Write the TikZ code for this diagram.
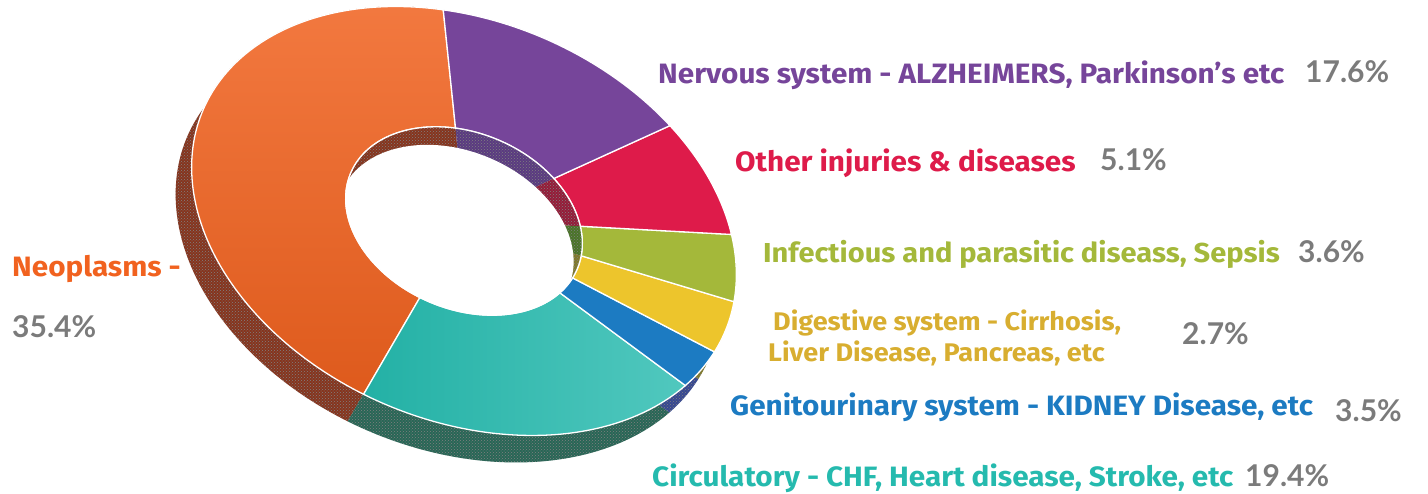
\documentclass[tikz,border=0pt]{standalone}
\usepackage{fontspec}
\setmainfont{Fira Sans}[FakeStretch=1.06]
\newfontfamily\pctfont{Lato}
\usetikzlibrary{patterns}

\definecolor{neo}{HTML}{F1621F}
\definecolor{nerv}{HTML}{76459A}
\definecolor{oth}{HTML}{DE1B4A}
\definecolor{inf}{HTML}{A4B83A}
\definecolor{dig}{HTML}{EDC52C}
\definecolor{gen}{HTML}{1C7BC2}
\definecolor{circ}{HTML}{25BAAE}
\definecolor{digtext}{HTML}{D8AE30}
\definecolor{pctgray}{HTML}{7B7B7B}
\definecolor{sideneo}{HTML}{86341D}
\definecolor{sidenerv}{HTML}{5A3A80}
\definecolor{sideoth}{HTML}{951B38}
\definecolor{sideinf}{HTML}{4A7428}
\definecolor{sidedig}{HTML}{807A2B}
\definecolor{sidegen}{HTML}{364892}
\definecolor{sidecirc}{HTML}{286656}

\tikzset{
  slice/.style={draw=white,line width=1.3pt},
  side/.style={draw=none,postaction={pattern=crosshatch dots,pattern color=black!50}},
  lab/.style={font=\fontsize{28}{31}\selectfont\bfseries,anchor=base west,inner sep=0pt},
  pct/.style={font=\fontsize{30}{33}\selectfont\pctfont\bfseries,anchor=base west,inner sep=0pt,text=pctgray}
}

\begin{document}
\begin{tikzpicture}[x=1pt,y=1pt]
\useasboundingbox (0,0) rectangle (1428,493);

% side of the ring
\begin{scope}[shift={(448,245)},rotate=-23]
  \fill[sideneo,side] (0,0) -- (111:283.5 and 199.5) arc[start angle=111,end angle=265,x radius=283.5,y radius=199.5] -- cycle;
  \fill[sidecirc,side] (0,0) -- (265:283.5 and 199.5) arc[start angle=265,end angle=341,x radius=283.5,y radius=199.5] -- cycle;
  \fill[sidegen,side] (0,0) -- (341:283.5 and 199.5) arc[start angle=341,end angle=353.5,x radius=283.5,y radius=199.5] -- cycle;
  \fill[sidedig,side] (0,0) -- (353.5:283.5 and 199.5) arc[start angle=353.5,end angle=369,x radius=283.5,y radius=199.5] -- cycle;
\end{scope}

% top face
\begin{scope}[shift={(464,272)},rotate=-23]
  \filldraw[slice,top color=neo!85!white,bottom color=neo!92!black] (111:283.5 and 199.5) arc[start angle=111,end angle=265,x radius=283.5,y radius=199.5]
    -- (265:123 and 88) arc[start angle=265,end angle=111,x radius=123,y radius=88] -- cycle;
  \filldraw[slice,left color=circ!95!black,right color=circ!80!white] (265:283.5 and 199.5) arc[start angle=265,end angle=341,x radius=283.5,y radius=199.5]
    -- (341:123 and 88) arc[start angle=341,end angle=265,x radius=123,y radius=88] -- cycle;
  \filldraw[fill=gen,slice] (341:283.5 and 199.5) arc[start angle=341,end angle=353.5,x radius=283.5,y radius=199.5]
    -- (353.5:123 and 88) arc[start angle=353.5,end angle=341,x radius=123,y radius=88] -- cycle;
  \filldraw[fill=dig,slice] (-6.5:283.5 and 199.5) arc[start angle=-6.5,end angle=9,x radius=283.5,y radius=199.5]
    -- (9:123 and 88) arc[start angle=9,end angle=-6.5,x radius=123,y radius=88] -- cycle;
  \filldraw[fill=inf,slice] (9:283.5 and 199.5) arc[start angle=9,end angle=27.5,x radius=283.5,y radius=199.5]
    -- (27.5:123 and 88) arc[start angle=27.5,end angle=9,x radius=123,y radius=88] -- cycle;
  \filldraw[fill=oth,slice] (27.5:283.5 and 199.5) arc[start angle=27.5,end angle=57.5,x radius=283.5,y radius=199.5]
    -- (57.5:123 and 88) arc[start angle=57.5,end angle=27.5,x radius=123,y radius=88] -- cycle;
  \filldraw[fill=nerv,slice] (57.5:283.5 and 199.5) arc[start angle=57.5,end angle=111,x radius=283.5,y radius=199.5]
    -- (111:123 and 88) arc[start angle=111,end angle=57.5,x radius=123,y radius=88] -- cycle;

  % inner wall of the hole
  \begin{scope}
    \clip (0,0) ellipse[x radius=123,y radius=88];
    \fill[sideneo,side] (0,0) -- (111:123 and 88) arc[start angle=111,end angle=265,x radius=123,y radius=88] -- cycle;
    \fill[sidenerv,side] (0,0) -- (57.5:123 and 88) arc[start angle=57.5,end angle=111,x radius=123,y radius=88] -- cycle;
    \fill[sideoth,side] (0,0) -- (27.5:123 and 88) arc[start angle=27.5,end angle=57.5,x radius=123,y radius=88] -- cycle;
    \fill[sideinf,side] (0,0) -- (9:123 and 88) arc[start angle=9,end angle=27.5,x radius=123,y radius=88] -- cycle;
    \fill[sidedig,side] (0,0) -- (-6.5:123 and 88) arc[start angle=-6.5,end angle=9,x radius=123,y radius=88] -- cycle;
    \fill[sidegen,side] (0,0) -- (-19:123 and 88) arc[start angle=-19,end angle=-6.5,x radius=123,y radius=88] -- cycle;
    \fill[white] (-1,-20) ellipse[x radius=123,y radius=88];
  \end{scope}
  \draw[white,line width=1.3pt] (0,0) ellipse[x radius=123,y radius=88];
\end{scope}

% labels
\node[lab,text=nerv] (nervous) at (658,409) {Nervous system - ALZHEIMERS, Parkinson’s etc};
\node[pct] (nervouspct) at (1305,410) {17.6\%};
\node[lab,text=oth] (other) at (735,321) {Other injuries \& diseases};
\node[pct] (otherpct) at (1100,322) {5.1\%};
\node[lab,text=inf,font=\fontsize{27.4}{30}\selectfont\bfseries] (infect) at (763,230) {Infectious and parasitic diseass, Sepsis};
\node[pct] (infectpct) at (1298,230) {3.6\%};
\node[lab,text=digtext,font=\fontsize{25.5}{28}\selectfont\bfseries] (digest) at (773,162) {Digestive system - Cirrhosis,};
\node[lab,text=digtext,font=\fontsize{25.5}{28}\selectfont\bfseries] (liver) at (768,131) {Liver Disease, Pancreas, etc};
\node[pct] (digestpct) at (1182,148) {2.7\%};
\node[lab,text=gen] (genito) at (730,77) {Genitourinary system - KIDNEY Disease, etc};
\node[pct] (genitopct) at (1335,71) {3.5\%};
\node[lab,text=circ] (circul) at (652,6) {Circulatory - CHF, Heart disease, Stroke, etc};
\node[pct] (circulpct) at (1245,6) {19.4\%};
\node[lab,text=neo] (neo) at (12,216) {Neoplasms -};
\node[pct] (neopct) at (12,155) {35.4\%};
\end{tikzpicture}
\end{document}
